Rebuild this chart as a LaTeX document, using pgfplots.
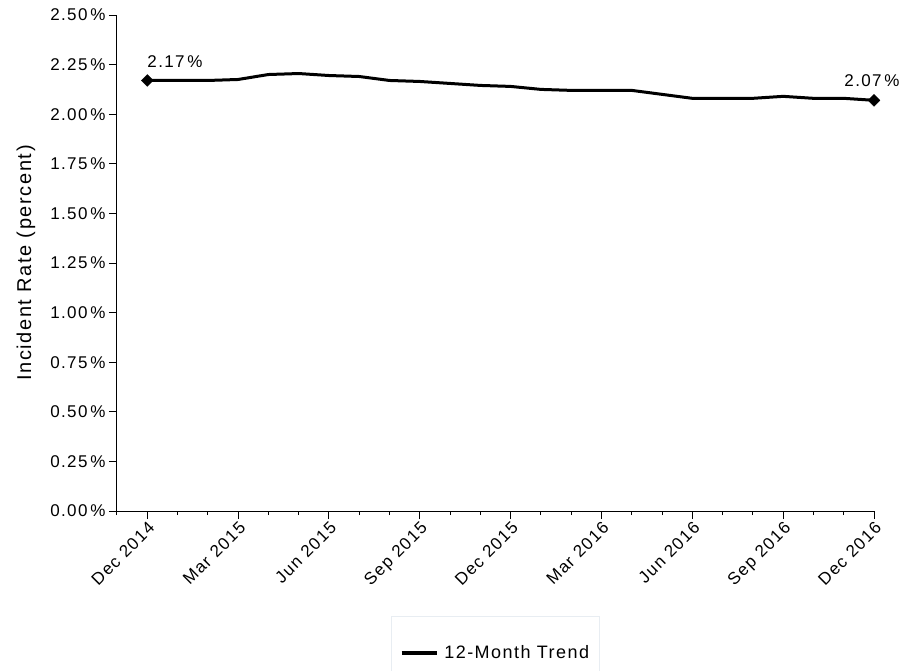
\documentclass[border=0pt]{standalone}
\usepackage{fontspec}
\setmainfont{Liberation Sans}[LetterSpace=8]
\usepackage{pgfplots}
\usepackage{pgfplotstable}
\pgfplotsset{compat=1.18}

\pgfplotstableread{
m v
0 2.170
1 2.170
2 2.170
3 2.175
4 2.200
5 2.205
6 2.195
7 2.190
8 2.170
9 2.165
10 2.155
11 2.145
12 2.140
13 2.125
14 2.120
15 2.120
16 2.120
17 2.100
18 2.080
19 2.080
20 2.080
21 2.090
22 2.080
23 2.080
24 2.070
}\trend

\pgfplotstableread{
m v
0 2.170
24 2.070
}\ends

\begin{document}
\begin{tikzpicture}
\path[use as bounding box] (-117pt,-159pt) rectangle (785pt,511pt);
\begin{axis}[
  scale only axis,
  width=757pt, height=496pt,
  xmin=-1, xmax=24, ymin=0, ymax=2.5,
  axis lines*=left,
  axis line style={black, line width=1pt},
  clip=false,
  /pgf/number format/assume math mode=true,
  xtick={0,3,6,9,12,15,18,21,24},
  minor xtick={-1,0,...,24},
  xticklabels={Dec 2014,Mar 2015,Jun 2015,Sep 2015,Dec 2015,Mar 2016,Jun 2016,Sep 2016,Dec 2016},
  ytick={0,0.25,0.5,0.75,1,1.25,1.5,1.75,2,2.25,2.5},
  yticklabel={\pgfmathprintnumber[fixed,fixed zerofill,precision=2]{\tick}\,\%},
  tick align=outside,
  major tick length=8pt, minor tick length=4pt,
  tick style={black, line width=1pt},
  xticklabel style={rotate=45, anchor=north east, inner sep=1pt, font=\fontsize{17}{20}\selectfont},
  yticklabel style={font=\fontsize{17}{20}\selectfont},
  ylabel={Incident Rate (percent)},
  ylabel style={at={(axis description cs:-0.1202,0.5)}, anchor=center, font=\fontsize{20}{24}\selectfont},
  legend style={at={(axis description cs:0.5,-0.212)}, anchor=north,
    draw={rgb,255:red,232;green,237;blue,242}, line width=1pt,
    inner xsep=8pt, inner ysep=27pt,
    font=\fontsize{18}{21}\selectfont,
    /tikz/every odd column/.append style={column sep=4pt}},
  legend cell align=left,
]
\addplot[black, line width=3pt, line join=round,
  legend image code/.code={\draw[black, line width=3.5pt] (0pt,0pt) -- (35pt,0pt);}]
  table[x=m, y=v] {\trend};
\addlegendentry{12-Month Trend}
\addplot[only marks, mark=square*, mark size=4.2pt, mark options={rotate=45, black}, forget plot]
  table[x=m, y=v] {\ends};
\node[anchor=base west, inner sep=0pt, font=\fontsize{17}{20}\selectfont] at ([yshift=13pt]axis cs:0,2.17) {2.17\,\%};
\node[anchor=base, inner sep=0pt, font=\fontsize{17}{20}\selectfont] at ([yshift=14pt,xshift=-2pt]axis cs:24,2.07) {2.07\,\%};
\end{axis}
\end{tikzpicture}
\end{document}
